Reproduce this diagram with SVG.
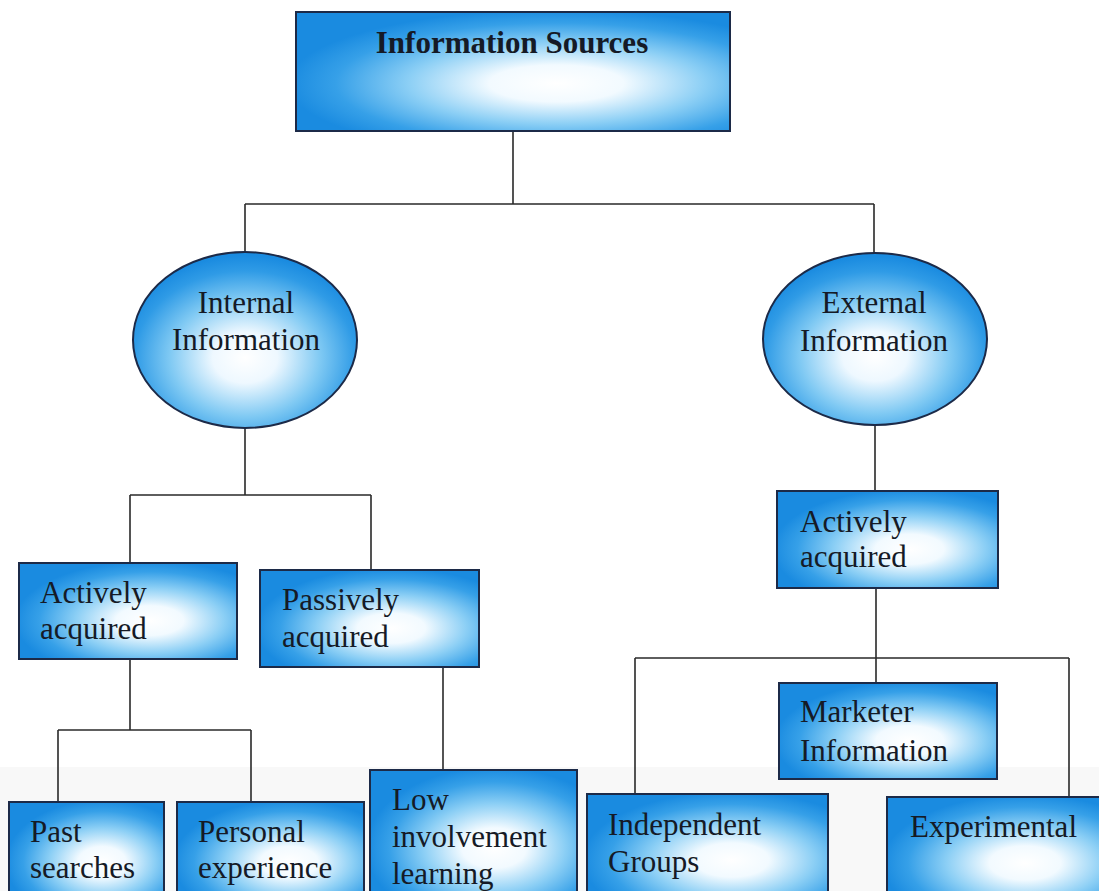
<svg xmlns="http://www.w3.org/2000/svg" width="1099" height="891" viewBox="0 0 1099 891">
  <defs>
    <radialGradient id="boxFill" cx="0.6" cy="0.6" r="0.62">
      <stop offset="0" stop-color="#ffffff"/>
      <stop offset="0.25" stop-color="#f2faff"/>
      <stop offset="0.55" stop-color="#8ccff5"/>
      <stop offset="0.82" stop-color="#36a0e8"/>
      <stop offset="1" stop-color="#1a8be0"/>
    </radialGradient>
    <radialGradient id="ovalFill" cx="0.5" cy="0.6" r="0.58">
      <stop offset="0" stop-color="#ffffff"/>
      <stop offset="0.25" stop-color="#eef8ff"/>
      <stop offset="0.58" stop-color="#7fc9f3"/>
      <stop offset="0.85" stop-color="#2f9be6"/>
      <stop offset="1" stop-color="#1a8be0"/>
    </radialGradient>
  </defs>
  <style>
    .box { fill: url(#boxFill); stroke: #1c2a48; stroke-width: 2; }
    .oval { fill: url(#ovalFill); stroke: #1c2a48; stroke-width: 2; }
    .wire { fill: none; stroke: #2a2a2a; stroke-width: 1.6; }
    .lbl { font-family: "Liberation Serif", "Times New Roman", serif; font-size: 31px; fill: #151a26; }
    .mid { text-anchor: middle; }
    .title { font-weight: bold; }
  </style>

  <rect x="0" y="0" width="1099" height="891" fill="#ffffff"/>
  <rect x="0" y="767" width="1099" height="124" fill="#f8f8f8"/>

  <!-- tree connectors -->
  <g id="connectors">
    <path class="wire" d="M513 131 V204 M245 204 H874 M245 204 V252 M874 204 V253"/>
    <path class="wire" d="M245 428 V495 M130 495 H371 M130 495 V563 M371 495 V570"/>
    <path class="wire" d="M130 659 V730 M58 730 H251 M58 730 V802 M251 730 V802"/>
    <path class="wire" d="M443 667 V770"/>
    <path class="wire" d="M875 425 V491 M876 588 V683 M635 658 H1069 M635 658 V794 M1069 658 V797"/>
  </g>

  <g id="information-sources">
    <rect class="box" x="296" y="12" width="434" height="119"/>
    <text class="lbl title mid" x="512" y="53">Information Sources</text>
  </g>

  <g id="internal-information">
    <ellipse class="oval" cx="245" cy="340" rx="112" ry="88"/>
    <text class="lbl mid" x="246" y="313">Internal</text>
    <text class="lbl mid" x="246" y="350">Information</text>
  </g>

  <g id="external-information">
    <ellipse class="oval" cx="875" cy="339" rx="112" ry="86"/>
    <text class="lbl mid" x="874" y="313">External</text>
    <text class="lbl mid" x="874" y="351">Information</text>
  </g>

  <g id="internal-actively-acquired">
    <rect class="box" x="19" y="563" width="218" height="96"/>
    <text class="lbl" x="40" y="603">Actively</text>
    <text class="lbl" x="40" y="639">acquired</text>
  </g>

  <g id="passively-acquired">
    <rect class="box" x="260" y="570" width="219" height="97"/>
    <text class="lbl" x="282" y="610">Passively</text>
    <text class="lbl" x="282" y="647">acquired</text>
  </g>

  <g id="past-searches">
    <rect class="box" x="9" y="802" width="155" height="100"/>
    <text class="lbl" x="30" y="842">Past</text>
    <text class="lbl" x="30" y="878">searches</text>
  </g>

  <g id="personal-experience">
    <rect class="box" x="177" y="802" width="187" height="100"/>
    <text class="lbl" x="198" y="842">Personal</text>
    <text class="lbl" x="198" y="878">experience</text>
  </g>

  <g id="low-involvement-learning">
    <rect class="box" x="370" y="770" width="207" height="130"/>
    <text class="lbl" x="392" y="810">Low</text>
    <text class="lbl" x="392" y="847">involvement</text>
    <text class="lbl" x="392" y="884">learning</text>
  </g>

  <g id="external-actively-acquired">
    <rect class="box" x="777" y="491" width="221" height="97"/>
    <text class="lbl" x="800" y="532">Actively</text>
    <text class="lbl" x="800" y="567">acquired</text>
  </g>

  <g id="marketer-information">
    <rect class="box" x="779" y="683" width="218" height="96"/>
    <text class="lbl" x="800" y="722">Marketer</text>
    <text class="lbl" x="800" y="761">Information</text>
  </g>

  <g id="independent-groups">
    <rect class="box" x="587" y="794" width="241" height="110"/>
    <text class="lbl" x="608" y="835">Independent</text>
    <text class="lbl" x="608" y="872">Groups</text>
  </g>

  <g id="experimental">
    <rect class="box" x="887" y="797" width="230" height="110"/>
    <text class="lbl" x="910" y="837">Experimental</text>
  </g>
</svg>
